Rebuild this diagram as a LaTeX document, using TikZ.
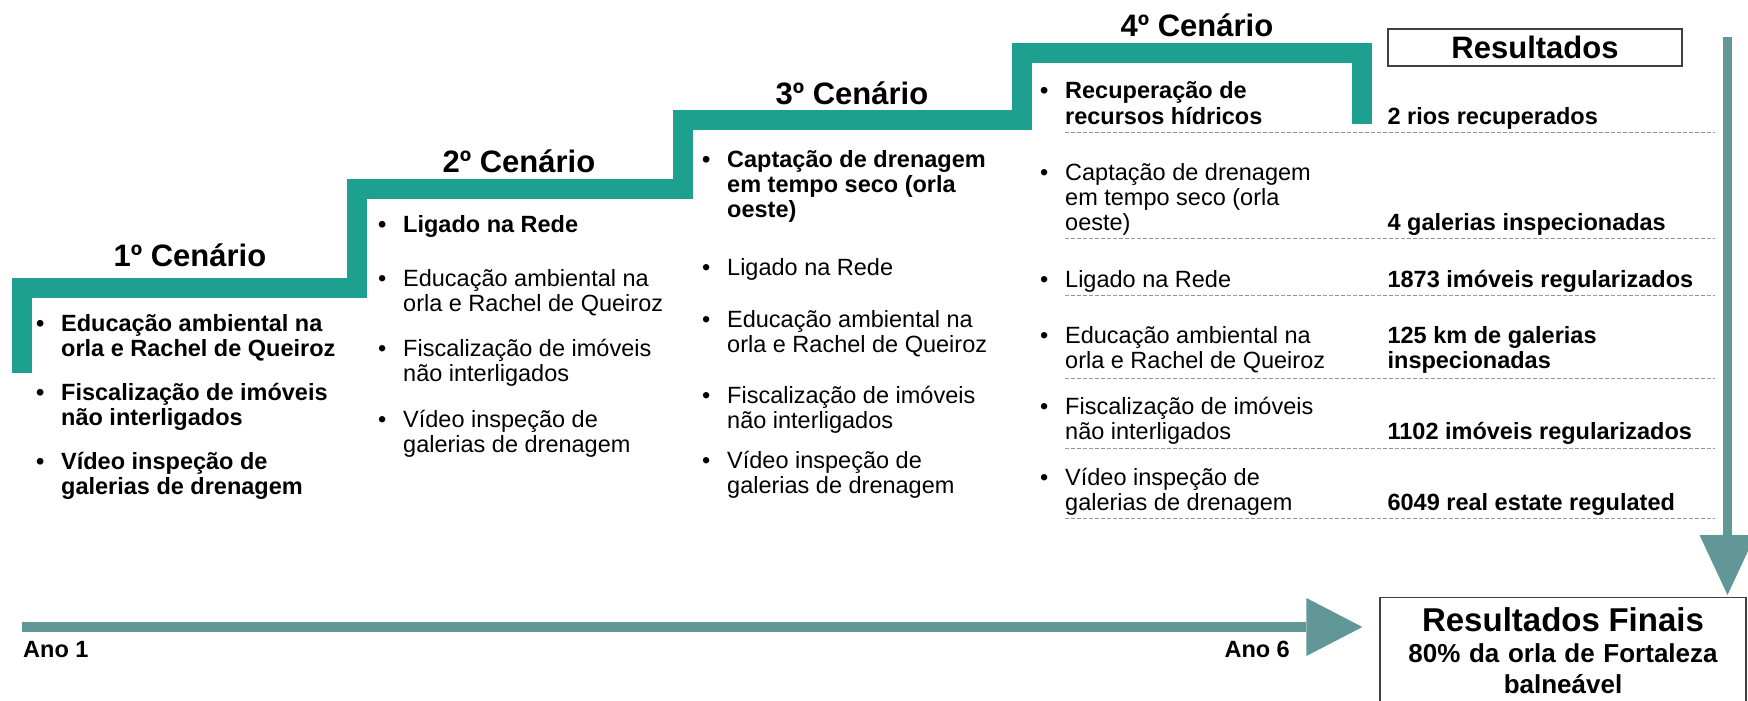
\documentclass[tikz,border=0pt]{standalone}
\usepackage{fontspec}
\setmainfont{Liberation Sans}
\usetikzlibrary{arrows.meta,positioning}

\definecolor{stairteal}{RGB}{30,160,145}
\definecolor{arrowgray}{RGB}{97,151,150}
\definecolor{sepgray}{RGB}{150,150,150}

\newcommand{\bodyfont}{\fontsize{23.5}{25}\selectfont}
\newcommand{\headfont}{\fontsize{31}{34}\selectfont\bfseries}
% bullet item, baseline on first line / on last line
\newcommand{\itm}[1]{\begin{tabular}[t]{@{}p{25pt}@{}l@{}}\textbullet & #1\end{tabular}}
\newcommand{\itmb}[1]{\begin{tabular}[b]{@{}p{25pt}@{}l@{}}\textbullet & #1\end{tabular}}

\begin{document}
\begin{tikzpicture}[x=1pt,y=-1pt,every node/.style={inner sep=0pt},
    stair/.style={line width=20pt, draw=stairteal, line join=miter},
    heading/.style={font=\headfont, anchor=base},
    stepitem/.style={font=\bodyfont, anchor=north west},
    boldstep/.style={stepitem, font=\bodyfont\bfseries},
    result/.style={font=\bodyfont\bfseries, anchor=base west},
    resbox/.style={draw=black!75, line width=1.2pt, minimum width=294pt, minimum height=37pt, font=\headfont},
    finalbox/.style={draw=black!75, line width=1.2pt, anchor=north, text width=366pt, align=center, inner xsep=0pt, inner ysep=10pt, font=\fontsize{26}{31}\selectfont\bfseries},
    sepline/.style={draw=sepgray, line width=0.9pt, dash pattern=on 4pt off 2pt},
    timeline/.style={draw=arrowgray, line width=10pt}]
    \useasboundingbox (0,0) rectangle (1748,701);

	% the stairs
    \draw[stair] (22,373) -- (22,288) -- (357,288) -- (357,189) -- (683,189) -- (683,120) -- (1022,120) -- (1022,53) -- (1362,53) -- (1362,124);

	% scenario titles
    \node[heading] (cen1) at (190,266) {1º Cenário};
    \node[heading] (cen2) at (519,172) {2º Cenário};
    \node[heading] (cen3) at (852,104) {3º Cenário};
    \node[heading] (cen4) at (1197,37) {4º Cenário};

	% 1st scenario
    \node[boldstep, anchor=base west] (c1a) at (36,331) {\itm{Educação ambiental na\\ & orla e Rachel de Queiroz}};
    \node[boldstep, below=19pt of c1a.south west, anchor=north west] (c1b) {\itm{Fiscalização de imóveis\\ & não interligados}};
    \node[boldstep, below=19pt of c1b.south west, anchor=north west] (c1c) {\itm{Vídeo inspeção de\\ & galerias de drenagem}};

	% 2nd scenario
    \node[boldstep, anchor=base west] (c2a) at (378,232) {\itm{Ligado na Rede}};
    \node[stepitem, below=29pt of c2a.south west, anchor=north west] (c2b) {\itm{Educação ambiental na\\ & orla e Rachel de Queiroz}};
    \node[stepitem, below=20pt of c2b.south west, anchor=north west] (c2c) {\itm{Fiscalização de imóveis\\ & não interligados}};
    \node[stepitem, below=20pt of c2c.south west, anchor=north west] (c2d) {\itm{Vídeo inspeção de\\ & galerias de drenagem}};

	% 3rd scenario
    \node[boldstep, anchor=base west] (c3a) at (702,167) {\itm{Captação de drenagem\\ & em tempo seco (orla\\ & oeste)}};
    \node[stepitem, below=33pt of c3a.south west, anchor=north west] (c3b) {\itm{Ligado na Rede}};
    \node[stepitem, below=27pt of c3b.south west, anchor=north west] (c3c) {\itm{Educação ambiental na\\ & orla e Rachel de Queiroz}};
    \node[stepitem, below=25pt of c3c.south west, anchor=north west] (c3d) {\itm{Fiscalização de imóveis\\ & não interligados}};
    \node[stepitem, below=15pt of c3d.south west, anchor=north west] (c3e) {\itm{Vídeo inspeção de\\ & galerias de drenagem}};

	% 4th scenario
    \node[boldstep, anchor=base west] (c4a) at (1040,124) {\itmb{Recuperação de\\ & recursos hídricos}};
    \node[stepitem, anchor=base west] (c4b) at (1040,230) {\itmb{Captação de drenagem\\ & em tempo seco (orla\\ & oeste)}};
    \node[stepitem, anchor=base west] (c4c) at (1040,287) {\itmb{Ligado na Rede}};
    \node[stepitem, anchor=base west] (c4d) at (1040,368) {\itmb{Educação ambiental na\\ & orla e Rachel de Queiroz}};
    \node[stepitem, anchor=base west] (c4e) at (1040,439) {\itmb{Fiscalização de imóveis\\ & não interligados}};
    \node[stepitem, anchor=base west] (c4f) at (1040,510) {\itmb{Vídeo inspeção de\\ & galerias de drenagem}};

	% results
    \node[resbox] (res) at (1535,47.5) {Resultados};
    \node[result] (r1) at (c4a.base -| res.west) {2 rios recuperados};
    \node[result] (r2) at (c4b.base -| res.west) {4 galerias inspecionadas};
    \node[result] (r3) at (c4c.base -| res.west) {1873 imóveis regularizados};
    \node[result] (r4) at (c4d.base -| res.west) {\begin{tabular}[b]{@{}l@{}}125 km de galerias\\inspecionadas\end{tabular}};
    \node[result] (r5) at (c4e.base -| res.west) {1102 imóveis regularizados};
    \node[result] (r6) at (c4f.base -| res.west) {6049 real estate regulated};

    \draw[sepline] (1065,132) -- (1715,132);
    \draw[sepline] (1065,238) -- (1715,238);
    \draw[sepline] (1065,295) -- (1715,295);
    \draw[sepline] (1065,378) -- (1715,378);
    \draw[sepline] (1065,448) -- (1715,448);
    \draw[sepline] (1065,518) -- (1715,518);

	% final results and time line
    \node[finalbox] (final) at (1563,597) {{\fontsize{33}{31}\selectfont Resultados Finais}\\80\% da orla de Fortaleza\\balneável\rule[-20pt]{0pt}{0pt}};
    \coordinate (ano1pt) at (22,627);
    \coordinate (restop) at (1727.5,37);
    \node[result] (ano1) at (23,657) {Ano 1};
    \node[result, anchor=base east] (ano6) at (1290,657) {Ano 6};

    \draw[timeline, -{Triangle[width=58pt,length=56pt,line width=0pt]}, shorten >=17pt] (ano1pt) -- (ano1pt -| final.west);
    \draw[timeline, line width=9pt, -{Triangle[width=56pt,length=60pt,line width=0pt]}, shorten >=2pt] (restop) -- (restop |- final.north);

\end{tikzpicture}
\end{document}
